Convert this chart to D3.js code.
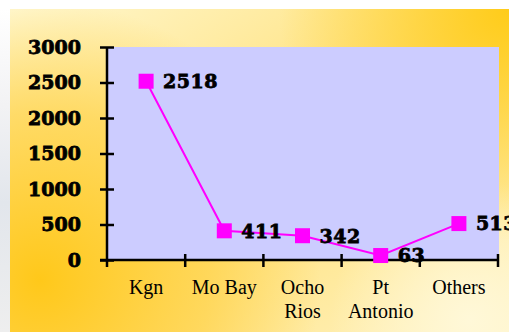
<!DOCTYPE html>
<html>
<head>
<meta charset="utf-8">
<script src="https://cdn.jsdelivr.net/npm/d3@7"></script>
<style>
  body { margin: 0; background: #fff; }
  svg { display: block; }
</style>
</head>
<body>
<svg id="chart" width="509" height="332"></svg>
<script>
// data
var categories = ["Kgn", "Mo Bay", "Ocho\nRios", "Pt\nAntonio", "Others"];
var values = [2518, 411, 342, 63, 513];
var yTicks = [0, 500, 1000, 1500, 2000, 2500, 3000];

var W = 509, H = 332;
var plot = {left: 107, right: 498, top: 47, bottom: 260};

var svg = d3.select("#chart");
var defs = svg.append("defs");

// background - yellow slide texture, approximated with gradients
var lg = defs.append("linearGradient").attr("id", "bgBase")
  .attr("x1", 0).attr("y1", 0).attr("x2", 1).attr("y2", 1);
lg.append("stop").attr("offset", 0).attr("stop-color", "#fff7cf");
lg.append("stop").attr("offset", 0.5).attr("stop-color", "#ffe17a");
lg.append("stop").attr("offset", 1).attr("stop-color", "#fff3c4");

var rg1 = defs.append("radialGradient").attr("id", "spotTR")
  .attr("gradientUnits", "userSpaceOnUse").attr("cx", 509).attr("cy", 10).attr("r", 230);
rg1.append("stop").attr("offset", 0).attr("stop-color", "#ffcc1a").attr("stop-opacity", 1);
rg1.append("stop").attr("offset", 1).attr("stop-color", "#ffcc1a").attr("stop-opacity", 0);

var rg2 = defs.append("radialGradient").attr("id", "spotBL")
  .attr("gradientUnits", "userSpaceOnUse").attr("cx", 40).attr("cy", 280).attr("r", 280);
rg2.append("stop").attr("offset", 0).attr("stop-color", "#ffc81a").attr("stop-opacity", 1);
rg2.append("stop").attr("offset", 0.6).attr("stop-color", "#ffd040").attr("stop-opacity", 0.65);
rg2.append("stop").attr("offset", 1).attr("stop-color", "#ffd040").attr("stop-opacity", 0);

var rg3 = defs.append("radialGradient").attr("id", "spotBR")
  .attr("gradientUnits", "userSpaceOnUse").attr("cx", 470).attr("cy", 320).attr("r", 140);
rg3.append("stop").attr("offset", 0).attr("stop-color", "#fff8d8").attr("stop-opacity", 1);
rg3.append("stop").attr("offset", 1).attr("stop-color", "#fff8d8").attr("stop-opacity", 0);

var lgLeft = defs.append("linearGradient").attr("id", "leftStrip")
  .attr("x1", 0).attr("y1", 0).attr("x2", 0).attr("y2", 1);
lgLeft.append("stop").attr("offset", 0).attr("stop-color", "#ffffff");
lgLeft.append("stop").attr("offset", 0.3).attr("stop-color", "#f2f2f4");
lgLeft.append("stop").attr("offset", 0.6).attr("stop-color", "#e2e6ec");
lgLeft.append("stop").attr("offset", 1).attr("stop-color", "#eeeeee");

svg.append("rect").attr("x", 0).attr("y", 0).attr("width", W).attr("height", H).attr("fill", "#fff");
svg.append("rect").attr("x", 0).attr("y", 9).attr("width", 10).attr("height", H - 9).attr("fill", "url(#leftStrip)");
["bgBase", "spotTR", "spotBL", "spotBR"].forEach(function(id) {
  svg.append("rect").attr("x", 10).attr("y", 9).attr("width", W - 10).attr("height", H - 9)
    .attr("fill", "url(#" + id + ")");
});

// plot area
svg.append("rect")
  .attr("x", plot.left).attr("y", plot.top)
  .attr("width", plot.right - plot.left + 1).attr("height", plot.bottom - plot.top)
  .attr("fill", "#ccccff");

var x = d3.scaleBand().domain(categories).range([plot.left, plot.right]).padding(0);
var y = d3.scaleLinear().domain([0, 3000]).range([plot.bottom, plot.top]);

var numFont = "'DejaVu Serif', serif";
var catFont = "'Liberation Serif', 'Times New Roman', serif";

// y axis
var yAxis = svg.append("g")
  .attr("transform", "translate(" + plot.left + ",0)")
  .call(d3.axisLeft(y).tickValues(yTicks).tickFormat(d3.format("d"))
    .tickSize(7).tickSizeOuter(0).tickPadding(19));
yAxis.select(".domain").remove();
yAxis.selectAll(".tick line").attr("x1", 7).attr("x2", -7)
  .attr("stroke", "#000").attr("stroke-width", 2.5);
yAxis.selectAll(".tick text")
  .attr("font-family", numFont).attr("font-weight", "bold").attr("font-size", 19)
  .attr("fill", "#000").attr("stroke", "#000").attr("stroke-width", 0.8);
svg.append("line")
  .attr("x1", plot.left).attr("x2", plot.left)
  .attr("y1", plot.top).attr("y2", plot.bottom + 7)
  .attr("stroke", "#000").attr("stroke-width", 2.5);

// x axis line and ticks at band edges
svg.append("line")
  .attr("x1", plot.left - 7).attr("x2", plot.right)
  .attr("y1", plot.bottom).attr("y2", plot.bottom)
  .attr("stroke", "#000").attr("stroke-width", 2.5);
var edges = categories.map(function(c) { return x(c); }).concat([x(categories[categories.length - 1]) + x.bandwidth()]);
svg.selectAll(".xtick").data(edges.slice(1)).enter().append("line")
  .attr("class", "xtick")
  .attr("x1", function(d) { return d; }).attr("x2", function(d) { return d; })
  .attr("y1", plot.bottom - 6).attr("y2", plot.bottom + 7)
  .attr("stroke", "#000").attr("stroke-width", 2.5);

// category labels (multi-line)
var catLabels = svg.selectAll(".cat").data(categories).enter().append("text")
  .attr("class", "cat")
  .attr("text-anchor", "middle")
  .attr("font-family", catFont).attr("font-size", 20).attr("fill", "#000")
  .attr("transform", function(d) { return "translate(" + (x(d) + x.bandwidth() / 2) + ",294)"; });
catLabels.each(function(d) {
  var t = d3.select(this);
  d.split("\n").forEach(function(line, i) {
    t.append("tspan").attr("x", 0).attr("y", i * 24).text(line);
  });
});

// series line
var pts = categories.map(function(c, i) { return {cat: c, v: values[i]}; });
var line = d3.line()
  .x(function(d) { return x(d.cat) + x.bandwidth() / 2; })
  .y(function(d) { return y(d.v); });
svg.append("path").datum(pts)
  .attr("d", line).attr("fill", "none")
  .attr("stroke", "#ff00ff").attr("stroke-width", 2);

var ms = 15;
svg.selectAll(".mark").data(pts).enter().append("rect")
  .attr("class", "mark")
  .attr("x", function(d) { return x(d.cat) + x.bandwidth() / 2 - ms / 2; })
  .attr("y", function(d) { return y(d.v) - ms / 2; })
  .attr("width", ms).attr("height", ms)
  .attr("fill", "#ff00ff");

// data labels
svg.selectAll(".lbl").data(pts).enter().append("text")
  .attr("class", "lbl")
  .attr("x", function(d) { return x(d.cat) + x.bandwidth() / 2 + 17; })
  .attr("y", function(d) { return y(d.v); })
  .attr("dy", "0.36em")
  .attr("font-family", numFont).attr("font-weight", "bold").attr("font-size", 19)
  .attr("letter-spacing", 0.5)
  .attr("fill", "#000").attr("stroke", "#000").attr("stroke-width", 0.8)
  .text(function(d) { return d.v; });
</script>
</body>
</html>
